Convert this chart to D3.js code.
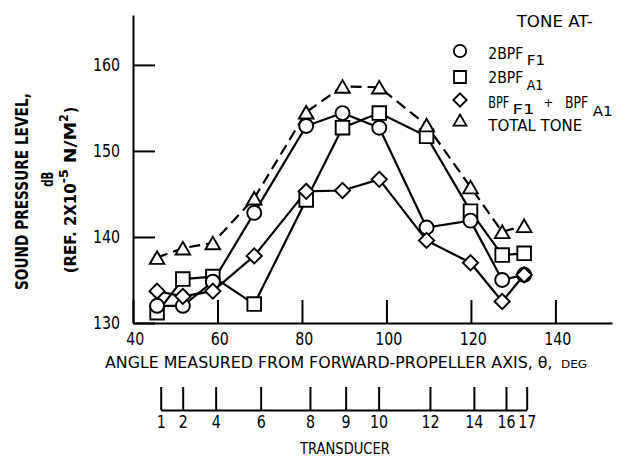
<!DOCTYPE html>
<html>
<head>
<meta charset="utf-8">
<script src="https://cdn.jsdelivr.net/npm/d3@7/dist/d3.min.js"></script>
<style>
  html, body { margin: 0; padding: 0; background: #fff; }
  svg { display: block; }
  text { font-family: "DejaVu Sans Condensed", "DejaVu Sans", sans-serif; font-stretch: condensed; fill: #000; }
</style>
</head>
<body>
<script>
// ---------- data ----------
const angles = [45.7, 51.8, 58.9, 68.7, 81, 89.6, 98.3, 109.5, 119.9, 127.4, 132.6];
const tone2bpfF1 = [132.0, 132.0, 134.8, 142.8, 152.9, 154.4, 152.7, 141.1, 141.9, 135.0, 135.6];
const tone2bpfA1 = [131.2, 135.1, 135.4, 132.2, 144.3, 152.7, 154.4, 151.7, 143.0, 137.9, 138.1];
const toneSum    = [133.7, 133.1, 133.7, 137.8, 145.3, 145.4, 146.7, 139.6, 137.0, 132.5, 135.6];
const toneTotal  = [137.6, 138.7, 139.3, 144.5, 154.5, 157.5, 157.4, 153.0, 145.8, 140.6, 141.3];

const xTicks = [40, 60, 80, 100, 120, 140];
const yTicks = [130, 140, 150, 160];
const transducerNums = [1, 2, 4, 6, 8, 9, 10, 12, 14, 16, 17];
const transducerAngles = [46.56, 51.76, 59.57, 70.22, 81.89, 90.34, 98.15, 110.3, 120.7, 128.3, 133.2];

const seriesDefs = [
  { values: tone2bpfA1, shape: "square",   dashed: false },
  { values: tone2bpfF1, shape: "circle",   dashed: false },
  { values: toneSum,    shape: "diamond",  dashed: false },
  { values: toneTotal,  shape: "triangle", dashed: true }
];

// ---------- setup ----------
const W = 621, H = 457;
const FONT = '"DejaVu Sans Condensed", "DejaVu Sans", sans-serif';
const SX = 0.93;
const svg = d3.select("body").append("svg").attr("width", W).attr("height", H);

const x = d3.scaleLinear().domain([40, 153.4]).range([133, 612]);
const y = d3.scaleLinear().domain([130, 165.8]).range([323, 15]);

function shapePath(type, s) {
  s = s || 1;
  if (type === "circle") {
    const r = 7 * s;
    return `M${r},0A${r},${r} 0 1,1 ${-r},0A${r},${r} 0 1,1 ${r},0Z`;
  }
  if (type === "square") {
    const h = 6.8 * s;
    return `M${-h},${-h}H${h}V${h}H${-h}Z`;
  }
  if (type === "diamond") {
    const h = 7.6 * s;
    return `M0,${-h}L${h},0L0,${h}L${-h},0Z`;
  }
  const w = 7.3 * s, hh = 6.3 * s;
  return `M0,${-hh}L${w},${hh}L${-w},${hh}Z`;
}

// text fitted to a measured width by a horizontal scale (glyph height kept)
function txt(g, px, py, s, o) {
  o = o || {};
  const t = g.append("text").text(s).attr("font-size", o.size || 16);
  if (o.weight) t.attr("font-weight", o.weight);
  if (o.anchor) t.attr("text-anchor", o.anchor);
  if (o.len) {
    const w = t.node().getComputedTextLength() || o.len;
    t.attr("transform", `translate(${px},${py}) scale(${o.len / w},1)`);
  } else {
    t.attr("x", px).attr("y", py);
  }
  return t;
}

function squeezeTicks(g) {
  g.selectAll(".tick text").each(function () {
    const t = d3.select(this);
    const xv = +t.attr("x") || 0;
    t.attr("x", xv / SX).attr("transform", `scale(${SX},1)`);
  });
}

// ---------- axes ----------
const xAxis = d3.axisBottom(x).tickValues(xTicks).tickSizeInner(-23).tickSizeOuter(0)
  .tickPadding(10).tickFormat(d3.format("d"));
const gx = svg.append("g").attr("transform", "translate(0,323)").call(xAxis);
gx.selectAll("text").attr("font-size", 17).attr("dx", 2).style("font-family", FONT);

const yAxis = d3.axisLeft(y).tickValues(yTicks).tickSizeInner(-22).tickSizeOuter(0)
  .tickPadding(13).tickFormat(d3.format("d"));
const gy = svg.append("g").attr("transform", "translate(133,0)").call(yAxis);
gy.selectAll("text").attr("font-size", 17).style("font-family", FONT);

[gx, gy].forEach(g => {
  g.select(".domain").attr("stroke", "#000").attr("stroke-width", 2);
  g.selectAll(".tick line").attr("stroke", "#000").attr("stroke-width", 2);
  g.selectAll(".tick text").attr("fill", "#000");
  squeezeTicks(g);
});

// ---------- series lines ----------
const line = d3.line().x((d, i) => x(angles[i])).y(d => y(d));
seriesDefs.forEach(sd => {
  svg.append("path").datum(sd.values).attr("d", line)
    .attr("fill", "none").attr("stroke", "#000").attr("stroke-width", 2.2)
    .attr("stroke-linejoin", "round")
    .attr("stroke-dasharray", sd.dashed ? "11,6" : null);
});

// ---------- markers ----------
seriesDefs.forEach(sd => {
  svg.append("g").selectAll("path").data(sd.values).join("path")
    .attr("transform", (d, i) => `translate(${x(angles[i])},${y(d)})`)
    .attr("d", shapePath(sd.shape))
    .attr("fill", "#fff").attr("stroke", "#000").attr("stroke-width", 1.9);
});

// ---------- axis titles ----------
txt(svg, 105, 368, "ANGLE MEASURED FROM FORWARD-PROPELLER AXIS, θ,", { size: 15, len: 448 });
txt(svg, 561, 368, "DEG", { size: 10.5, len: 26 });

const gr = svg.append("g").attr("transform", "rotate(-90)");
txt(gr, -290, 28, "SOUND PRESSURE LEVEL,", { size: 18, weight: "bold", len: 197 });
txt(gr, -186.7, 53, "dB", { size: 15.5, weight: "bold", len: 15 });
txt(gr, -273.3, 76, "(REF. 2X10", { size: 16.5, weight: "bold", len: 90 });
txt(gr, -183.3, 68, "-5", { size: 12, weight: "bold", len: 14 });
txt(gr, -163.3, 76, "N/M", { size: 16.5, weight: "bold", len: 41.6 });
txt(gr, -121.7, 68, "2", { size: 12, weight: "bold", len: 7.5 });
txt(gr, -113.3, 76, ")", { size: 16.5, weight: "bold", len: 6.6 });

// ---------- legend ----------
const lg = svg.append("g");
txt(lg, 516.7, 27, "TONE AT-", { size: 16, len: 76 });
const legendShapes = [
  { shape: "circle", y: 51 },
  { shape: "square", y: 77 },
  { shape: "diamond", y: 100 },
  { shape: "triangle", y: 120 }
];
lg.selectAll("path").data(legendShapes).join("path")
  .attr("transform", d => `translate(460,${d.y})`)
  .attr("d", d => shapePath(d.shape, 0.88))
  .attr("fill", "#fff").attr("stroke", "#000").attr("stroke-width", 1.8);

txt(lg, 488.3, 59.3, "2BPF", { size: 16, len: 35 });
txt(lg, 526.7, 65, "F1", { size: 14, len: 18.3 });
txt(lg, 488.3, 83.3, "2BPF", { size: 16, len: 35 });
txt(lg, 526.7, 90, "A1", { size: 14, len: 16.6 });
txt(lg, 488.3, 108.3, "BPF", { size: 16, len: 21 });
txt(lg, 512.5, 114, "F1", { size: 14, len: 22 });
txt(lg, 548.5, 106.5, "+", { size: 13, anchor: "middle" });
txt(lg, 565, 108.3, "BPF", { size: 16, len: 23.3 });
txt(lg, 592.7, 115.5, "A1", { size: 14, len: 20 });
txt(lg, 488.3, 131, "TOTAL TONE", { size: 16, len: 94 });

// ---------- transducer scale ----------
const xT = d3.scaleLinear()
  .domain([transducerAngles[0], transducerAngles[transducerAngles.length - 1]])
  .range([x(transducerAngles[0]), x(transducerAngles[transducerAngles.length - 1])]);
const tAxis = d3.axisBottom(xT).tickValues(transducerAngles).tickSizeInner(-23).tickSizeOuter(0)
  .tickPadding(6).tickFormat((d, i) => transducerNums[i]);
const gt = svg.append("g").attr("transform", "translate(0,410)").call(tAxis);
gt.select(".domain").attr("stroke", "#000").attr("stroke-width", 2);
gt.selectAll(".tick line").attr("stroke", "#000").attr("stroke-width", 2);
gt.selectAll(".tick text").attr("fill", "#000").attr("font-size", 17).style("font-family", FONT);
squeezeTicks(gt);

txt(svg, 300, 453.5, "TRANSDUCER", { size: 16.5, len: 90 });
</script>
</body>
</html>
